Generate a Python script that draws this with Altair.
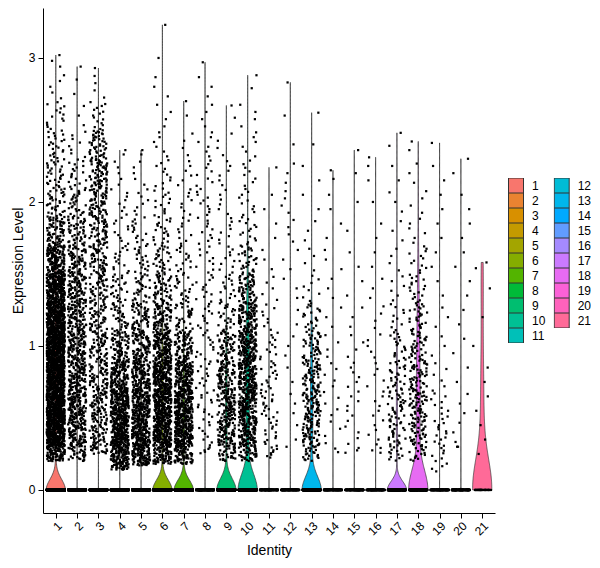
import numpy as np
import pandas as pd
import altair as alt

# ---------------- data ----------------
clusters = [str(i) for i in range(1, 22)]
palette = ["#F8766D", "#EA8331", "#D89000", "#C49A00", "#A3A500", "#85AD00", "#53B400",
           "#00BA38", "#00BE70", "#00C094", "#00C0B8", "#00BCD6", "#00B6EB", "#00A9FF",
           "#619CFF", "#A58AFF", "#CB7AFF", "#E76BF3", "#FB61D7", "#FF62BC", "#FF6A98"]

# expression bins (lower/upper edges)
bin_edges = [0.1, 0.3, 0.5, 0.7, 0.9, 1.1, 1.3, 1.5, 1.7, 1.9, 2.1, 2.3, 2.5, 2.7, 2.9, 3.1, 3.3]

# number of non-zero cells per bin, per cluster
c01 = [80, 370, 400, 400, 380, 320, 250, 150, 70, 35, 28, 22, 14, 5, 3, 0]
c02 = [30, 110, 120, 110, 100, 90, 85, 70, 50, 30, 18, 8, 3, 2, 1, 0]
c03 = [15, 60, 65, 60, 55, 50, 50, 55, 55, 60, 65, 45, 15, 4, 1, 0]
c04 = [130, 220, 200, 130, 70, 35, 25, 15, 10, 8, 5, 2, 0, 0, 0, 0]
c05 = [100, 190, 170, 120, 85, 55, 30, 20, 14, 8, 5, 2, 0, 0, 0, 0]
c06 = [80, 210, 220, 200, 140, 80, 50, 30, 20, 14, 10, 6, 4, 3, 1, 1]
c07 = [70, 200, 200, 150, 80, 35, 20, 15, 10, 8, 6, 4, 2, 0, 0, 0]
c08 = [5, 10, 12, 12, 12, 12, 12, 10, 10, 10, 8, 6, 4, 3, 1, 0]
c09 = [30, 90, 90, 80, 55, 25, 15, 10, 8, 6, 6, 4, 2, 0, 0, 0]
c10 = [40, 120, 140, 140, 130, 100, 60, 30, 15, 10, 8, 6, 4, 2, 0, 0]
c11 = [8, 15, 18, 15, 12, 8, 5, 3, 2, 2, 1, 0, 0, 0, 0, 0]
c12 = [1, 2, 3, 2, 3, 2, 3, 3, 4, 4, 3, 1, 1, 1, 0, 0]
c13 = [20, 60, 65, 55, 40, 22, 8, 4, 3, 2, 2, 1, 1, 0, 0, 0]
c14 = [2, 4, 5, 5, 4, 3, 3, 3, 2, 2, 2, 0, 0, 0, 0, 0]
c15 = [3, 5, 6, 6, 4, 3, 2, 2, 1, 1, 1, 1, 0, 0, 0, 0]
c16 = [3, 6, 6, 5, 5, 4, 3, 2, 2, 1, 2, 1, 0, 0, 0, 0]
c17 = [12, 30, 30, 25, 18, 10, 6, 4, 3, 3, 2, 2, 0, 0, 0, 0]
c18 = [15, 45, 50, 45, 35, 28, 18, 12, 6, 4, 3, 2, 0, 0, 0, 0]
c19 = [10, 14, 10, 5, 3, 3, 2, 2, 2, 2, 2, 1, 0, 0, 0, 0]
c20 = [2, 3, 3, 2, 2, 2, 2, 2, 2, 2, 2, 0, 0, 0, 0, 0]
c21 = [1, 2, 2, 2, 1, 1, 1, 2, 0, 0, 0, 0, 0, 0, 0, 0]
bin_counts = [c01, c02, c03, c04, c05, c06, c07, c08, c09, c10, c11,
              c12, c13, c14, c15, c16, c17, c18, c19, c20, c21]

# lowest non-zero value and maximum value per cluster
min_values = [0.20, 0.20, 0.25, 0.14, 0.17, 0.18, 0.18, 0.25, 0.20, 0.20, 0.22,
              0.30, 0.20, 0.25, 0.25, 0.25, 0.20, 0.20, 0.12, 0.30, 0.20]
max_values = [3.02, 2.94, 2.93, 2.36, 2.36, 3.23, 2.70, 2.97, 2.67, 2.88, 2.24,
              2.83, 2.62, 2.22, 2.36, 2.31, 2.48, 2.42, 2.41, 2.30, 1.58]
# cells with zero expression per cluster
zero_counts = [3300, 600, 500, 600, 600, 2400, 2100, 300, 1200, 1000, 200,
               200, 600, 200, 200, 200, 400, 400, 200, 200, 28]
# violin kernel bandwidth per cluster
bandwidths = [0.074, 0.004, 0.004, 0.004, 0.004, 0.07, 0.068, 0.004, 0.08, 0.11, 0.004,
              0.004, 0.095, 0.004, 0.004, 0.004, 0.06, 0.14, 0.004, 0.004, 0.21]

# ---------------- build tables ----------------
pt_rows = []
vio_rows = []
for ci, name in enumerate(clusters):
    cnt = bin_counts[ci]
    last = max(i for i, n in enumerate(cnt) if n > 0)
    vals = []
    for b, n in enumerate(cnt):
        if n == 0:
            continue
        lo = max(bin_edges[b], min_values[ci])
        if b == last:
            hi = max_values[ci]
            ys = lo + (hi - lo) * (np.arange(n) + 1) / n
        else:
            hi = bin_edges[b + 1]
            ys = lo + (hi - lo) * (np.arange(n) + 0.5) / n
        vals.extend(ys.tolist())
    vals = np.array(vals)
    for v in vals:
        pt_rows.append((ci + 1, name, float(v)))
    for _ in range(zero_counts[ci]):
        pt_rows.append((ci + 1, name, 0.0))
    # violin density (scaled to equal width)
    bw = bandwidths[ci]
    grid = np.linspace(0, max_values[ci], 300)
    dens = zero_counts[ci] * np.exp(-0.5 * (grid / bw) ** 2)
    dens = dens + np.exp(-0.5 * ((grid[:, None] - vals[None, :]) / bw) ** 2).sum(axis=1)
    w = dens / dens.max()
    for g, ww in zip(grid, w):
        vio_rows.append((ci + 1, name, float(g), float(ww)))

points_df = pd.DataFrame(pt_rows, columns=["cl", "ident", "y"])
violin_df = pd.DataFrame(vio_rows, columns=["cl", "ident", "y", "w"])

FONT = "Liberation Sans"
xscale = alt.Scale(domain=[0.4, 21.6], nice=False, zero=False)
yscale = alt.Scale(domain=[-0.16, 3.347], nice=False, zero=False)

axis_style = dict(grid=False, tickSize=5, domainColor="black", domainWidth=1, tickColor="black",
                  tickWidth=1, labelColor="black", labelFont=FONT, labelFontSize=12,
                  titleColor="black", titleFont=FONT, titleFontSize=14, titleFontWeight="normal",
                  labelOverlap=False, labelFlush=False, format="d")
xaxis = alt.Axis(values=list(range(1, 22)), labelAngle=-45, labelAlign="right", labelBaseline="top",
                 labelPadding=2, titlePadding=6, **axis_style)
yaxis = alt.Axis(values=[0, 1, 2, 3], labelPadding=3, titlePadding=3, **axis_style)

violin = alt.Chart(violin_df).transform_calculate(
    xl="datum.cl - 0.45 * datum.w",
    xr="datum.cl + 0.45 * datum.w",
).mark_area(orient="horizontal", stroke="#333333", strokeWidth=0.7, opacity=1).encode(
    y=alt.Y("y:Q", scale=yscale, axis=yaxis, title="Expression Level"),
    x=alt.X("xl:Q", scale=xscale, axis=xaxis, title="Identity"),
    x2="xr:Q",
    detail="cl:Q",
    color=alt.Color("ident:N", scale=alt.Scale(domain=clusters, range=palette),
                    legend=alt.Legend(title=None, orient="none", legendX=465, legendY=170,
                                      direction="vertical", columns=2, symbolType="square",
                                      symbolSize=225, symbolStrokeColor="#333333",
                                      symbolStrokeWidth=1, symbolOpacity=1,
                                      labelFontSize=12, labelColor="black", labelFont=FONT,
                                      labelOffset=8, rowPadding=0, columnPadding=7.7,
                                      clipHeight=15)),
)

points = alt.Chart(points_df).transform_calculate(
    xj="datum.cl + (random() - 0.5) * 0.84"
).mark_square(size=5, color="black", opacity=1, strokeWidth=0).encode(
    x=alt.X("xj:Q", scale=xscale, axis=xaxis, title="Identity"),
    y=alt.Y("y:Q", scale=yscale, axis=yaxis, title="Expression Level"),
)

chart = alt.layer(violin, points).properties(
    width=452, height=505,
    autosize=alt.AutoSizeParams(type="none"),
    padding={"left": 35, "top": 0, "right": 96, "bottom": 52},
).configure(font=FONT).configure_view(stroke=None)

chart.save("out.html", embed_options={"renderer": "svg", "actions": False})
